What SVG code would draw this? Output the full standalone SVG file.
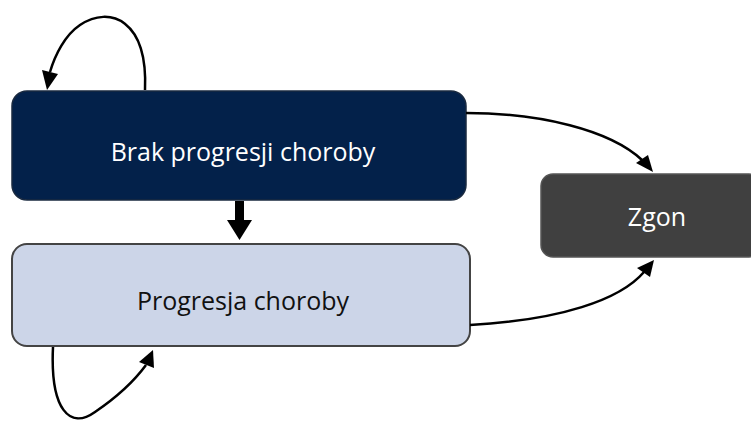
<svg xmlns="http://www.w3.org/2000/svg" width="751" height="421" viewBox="0 0 751 421">
<defs>
<style>
.lbl{font-family:"Open Sans","Noto Sans","Liberation Sans",sans-serif;font-size:25px;text-anchor:middle;dominant-baseline:central}
.con{fill:none;stroke:#000;stroke-width:2.5}
</style>
</defs>
<rect width="751" height="421" fill="#fff"/>
<g id="node-brak">
<rect x="12" y="91" width="454" height="109" rx="15" fill="#03214A" stroke="#1a2a40" stroke-width="1.5"/>
<text class="lbl" x="243" y="151" fill="#fff">Brak progresji choroby</text>
</g>
<g id="node-progresja">
<rect x="12" y="244" width="458" height="102" rx="15" fill="#CCD5E8" stroke="#444" stroke-width="2"/>
<text class="lbl" x="243" y="300" fill="#111">Progresja choroby</text>
</g>
<g id="node-zgon">
<rect x="541" y="174" width="220" height="83" rx="12" fill="#404040" stroke="#555" stroke-width="1.5"/>
<text class="lbl" x="657" y="216" fill="#fff">Zgon</text>
</g>
<g id="connectors">
<path class="con" d="M145,90 C148,20 110,5 80,25 C65,35 55,55 50,72"/>
<polygon points="42,70 58,74 47,90" fill="#000"/>
<path class="con" d="M53,347 C50,410 70,430 95,412 C120,395 135,380 146,365"/>
<polygon points="139,362 154,368 153,350" fill="#000"/>
<path class="con" d="M466,113 C540,113 610,130 642,160"/>
<polygon points="636,163 648,155 653,172" fill="#000"/>
<path class="con" d="M470,325 C560,320 620,300 644,272"/>
<polygon points="637,268 650,277 654,260" fill="#000"/>
<rect x="235" y="201" width="9" height="20" fill="#000"/>
<polygon points="227,220 252,220 239.5,240" fill="#000"/>
</g>
</svg>
